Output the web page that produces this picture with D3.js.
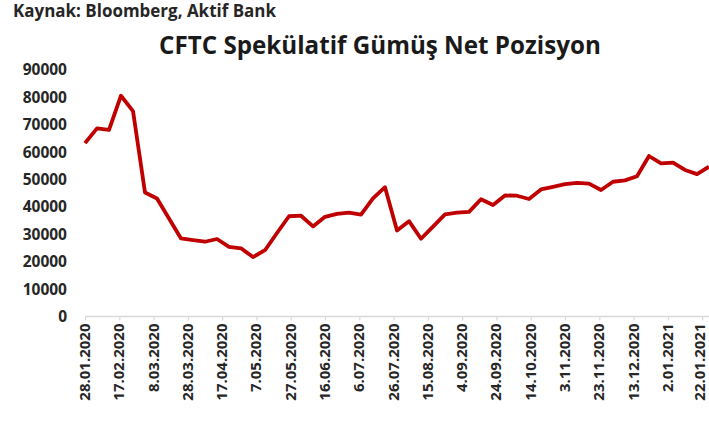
<!DOCTYPE html>
<html><head><meta charset="utf-8">
<script src="https://cdn.jsdelivr.net/npm/d3@7/dist/d3.min.js"></script>
<style>body{margin:0;background:#fff}svg{display:block}text{font-family:"Open Sans",sans-serif}</style>
</head><body><svg id="c" width="709" height="423"></svg>
<script>
const sourceText = "Kaynak: Bloomberg, Aktif Bank";
const titleText = "CFTC Spekülatif Gümüş Net Pozisyon";
const dates = ["2020-01-28","2020-02-04","2020-02-11","2020-02-18","2020-02-25","2020-03-03","2020-03-10","2020-03-17","2020-03-24","2020-03-31",
"2020-04-07","2020-04-14","2020-04-21","2020-04-28","2020-05-05","2020-05-12","2020-05-19","2020-05-26","2020-06-02","2020-06-09",
"2020-06-16","2020-06-23","2020-06-30","2020-07-07","2020-07-14","2020-07-21","2020-07-28","2020-08-04","2020-08-11","2020-08-18",
"2020-08-25","2020-09-01","2020-09-08","2020-09-15","2020-09-22","2020-09-29","2020-10-06","2020-10-13","2020-10-20","2020-10-27",
"2020-11-03","2020-11-10","2020-11-17","2020-11-24","2020-12-01","2020-12-08","2020-12-15","2020-12-22","2020-12-29","2021-01-05",
"2021-01-12","2021-01-19","2021-01-26"];
const values = [63300,68700,68100,80600,75000,45300,43100,35800,28500,27900,
27300,28300,25400,24900,21700,24200,30500,36600,36800,32900,
36400,37500,37900,37200,43100,47200,31400,34800,28400,32800,
37300,37900,38200,42800,40700,44200,44100,42900,46400,47300,
48300,48800,48500,46200,49200,49700,51200,58600,55900,56200,
53500,52000,54700];
const xTickLabels = ["28.01.2020","17.02.2020","8.03.2020","28.03.2020","17.04.2020","7.05.2020","27.05.2020","16.06.2020","6.07.2020","26.07.2020",
"15.08.2020","4.09.2020","24.09.2020","14.10.2020","3.11.2020","23.11.2020","13.12.2020","2.01.2021","22.01.2021"];
const yTicks = [0,10000,20000,30000,40000,50000,60000,70000,80000,90000];

const svg = d3.select("#c");
const parseISO = d3.timeParse("%Y-%m-%d");
const parseTR = d3.timeParse("%d.%m.%Y");
const data = dates.map((d,i)=>({date:parseISO(d), v:values[i]}));

const x = d3.scaleTime().domain([parseISO(dates[0]), parseISO(dates[dates.length-1])]).range([85,709]);
const y = d3.scaleLinear().domain([0,90000]).range([316.5,70]);

function fit(sel, w){ const n=sel.node(); const L=n.getComputedTextLength(); const fs=parseFloat(sel.attr("font-size")); sel.attr("font-size", fs*w/L); }

const src = svg.append("text").attr("x",13).attr("y",17).attr("font-size",15).attr("font-weight","bold").attr("fill","#262626").text(sourceText);
fit(src,263);
const ttl = svg.append("text").attr("x",159).attr("y",54).attr("font-size",24).attr("font-weight","bold").attr("fill","#1a1a1a").text(titleText);
fit(ttl,442);

// y axis
const ya = svg.append("g").attr("transform","translate(67,0)")
  .call(d3.axisLeft(y).tickValues(yTicks).tickSize(0).tickPadding(0).tickFormat(d3.format("d")));
ya.select(".domain").remove();
ya.selectAll("text").attr("font-size",15.5).attr("font-weight","bold").attr("fill","#262626").attr("font-family","'Open Sans',sans-serif");

// x axis
const xa = svg.append("g").attr("transform","translate(0,316.5)")
  .call(d3.axisBottom(x).tickValues(xTickLabels.map(parseTR)).tickSize(4).tickSizeOuter(0).tickFormat(d3.timeFormat("%-d.%m.%Y")));
xa.select(".domain").attr("stroke","#d9d9d9").attr("stroke-width",1.5).attr("d","M85,0H709");
xa.selectAll(".tick line").attr("stroke","#d9d9d9").attr("stroke-width",1.2);
const n = xTickLabels.length;
xa.selectAll("text").attr("font-size",15).attr("font-weight","bold").attr("fill","#262626").attr("font-family","'Open Sans',sans-serif")
  .attr("transform","rotate(-90)").attr("text-anchor","end").attr("x",-7).attr("y",0)
  .attr("dy",(d,i)=> i===n-1 ? "0.15em" : "0.3em");

svg.append("path").datum(data).attr("fill","none").attr("stroke","#c00000").attr("stroke-width",3.8).attr("stroke-linejoin","round")
  .attr("d", d3.line().x(d=>x(d.date)).y(d=>y(d.v)));
</script></body></html>
